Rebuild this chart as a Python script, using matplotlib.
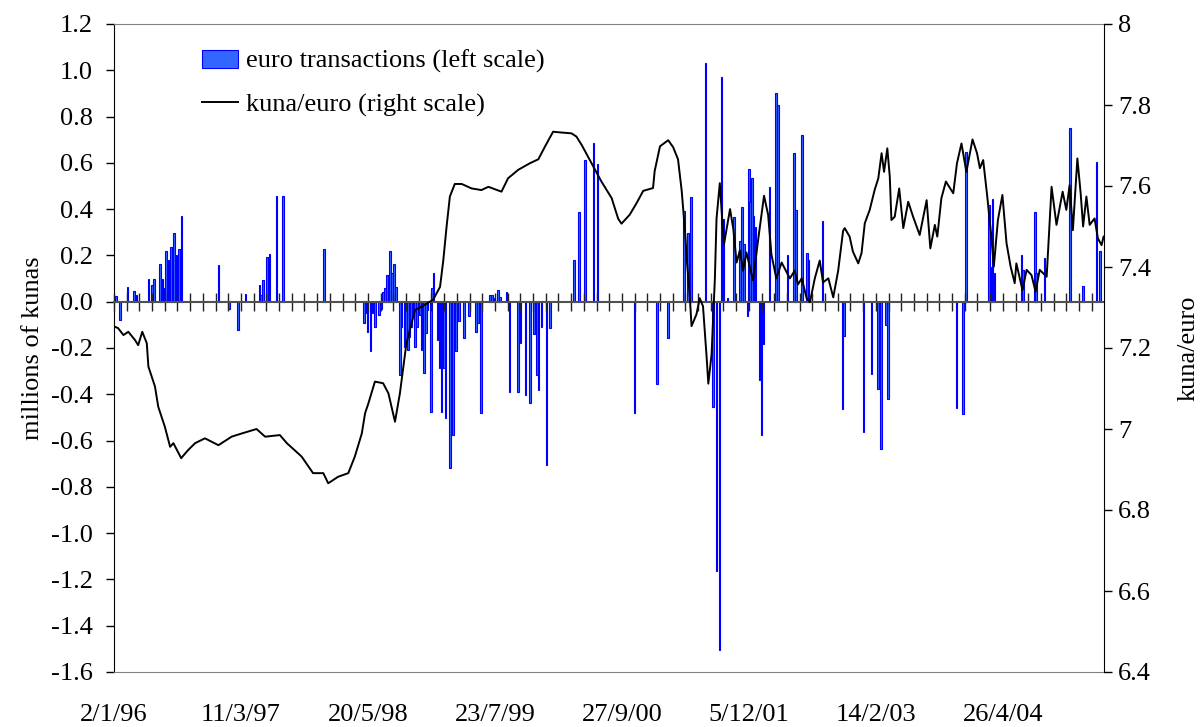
import matplotlib
matplotlib.use("Agg")
import matplotlib.pyplot as plt
import numpy as np

plt.rcParams['font.family'] = ['Liberation Serif', 'DejaVu Serif']

# ---------------- data ----------------
date_labels = ["2/1/96", "11/3/97", "20/5/98", "23/7/99", "27/9/00", "5/12/01", "14/2/03", "26/4/04"]
label_step = 310          # trading days between date labels
tick_step = 31            # trading days between tick marks on the zero line
n_days = 2417             # trading days shown

left_ticks = [1.2, 1.0, 0.8, 0.6, 0.4, 0.2, 0.0, -0.2, -0.4, -0.6, -0.8, -1.0, -1.2, -1.4, -1.6]
left_tick_labels = ["1.2", "1.0", "0.8", "0.6", "0.4", "0.2", "0.0", "-0.2", "-0.4", "-0.6",
                    "-0.8", "-1.0", "-1.2", "-1.4", "-1.6"]
right_ticks = [8.0, 7.8, 7.6, 7.4, 7.2, 7.0, 6.8, 6.6, 6.4]
right_tick_labels = ["8", "7.8", "7.6", "7.4", "7.2", "7", "6.8", "6.6", "6.4"]

# euro transactions (millions of kunas), trading-day index and amount
bar_day = [5, 15, 33, 49, 55, 84, 92, 98, 112, 118, 123, 127, 133, 139, 147, 153, 159, 165,
           255, 281, 302, 321, 355, 359, 364, 374, 380, 397, 412, 513,
           611, 614, 619, 626, 631, 637, 647, 653, 657, 661, 667, 671, 674, 679, 683, 689,
           698, 702, 709, 713, 717, 721, 725, 729, 735, 740, 747, 751, 757, 761, 765, 774,
           777, 780, 790, 795, 800, 805, 809, 820, 827, 835, 842, 855, 866, 884, 889, 896,
           918, 923, 929, 938, 942, 958, 966, 987, 992, 1005, 1016, 1026, 1032, 1036, 1044,
           1056, 1064, 1123, 1135, 1150, 1171, 1180,
           1271, 1325, 1352, 1392, 1402, 1408, 1444, 1463, 1471, 1478, 1483, 1488, 1498,
           1513, 1528, 1533, 1538, 1547, 1550, 1553, 1558, 1561, 1566, 1576, 1581, 1586,
           1600, 1616, 1621, 1644, 1660, 1665, 1679, 1692, 1696, 1730,
           1779, 1783, 1830, 1849, 1865, 1873, 1884, 1889, 2057, 2072, 2080,
           2136, 2140, 2145, 2150, 2216, 2219, 2248, 2251, 2272, 2334, 2365, 2399, 2407]
bar_value = [0.025, -0.079, 0.063, 0.048, 0.030, 0.10, 0.073, 0.10, 0.162, 0.10, 0.058, 0.219,
             0.181, 0.235, 0.296, 0.202, 0.228, 0.372,
             0.158, -0.033, -0.122, 0.032, 0.073, 0.030, 0.094, 0.195, 0.206, 0.457, 0.455, 0.227,
             -0.093, -0.05, -0.129, -0.211, -0.05, -0.108, -0.058, -0.033, 0.044, 0.058, 0.116,
             0.116, 0.221, 0.123, 0.163, 0.062,
             -0.316, -0.108, -0.194, -0.165, -0.208, -0.151, -0.108, -0.065, -0.197, -0.108,
             -0.058, -0.208, -0.309, -0.137, -0.036, -0.475,
             0.058, 0.123, -0.165, -0.287, -0.475, -0.287, -0.503, -0.719, -0.575, -0.215,
             -0.082, -0.158, -0.062, -0.129, -0.093, -0.482,
             0.029, 0.029, 0.014, 0.049, 0.02, 0.043, -0.392, -0.389, -0.177, -0.402, -0.438,
             -0.141, -0.316, -0.381, -0.108, -0.705, -0.115, 0.180, 0.387, 0.612, 0.685, 0.594,
             -0.483, -0.354, -0.157, 0.392, 0.298, 0.453, 1.031, -0.457, -1.165, -1.504, 0.973,
             0.358, 0.015,
             0.367, 0.264, 0.410, 0.25, -0.062, 0.573, 0.43, 0.533, 0.37, 0.324, -0.337, -0.577,
             -0.182,
             0.495, 0.904, 0.848, 0.204, 0.641, 0.396, 0.719, 0.21, 0.18, 0.347,
             -0.465, -0.148, -0.564, -0.313, -0.378, -0.638, -0.101, -0.421, -0.461, -0.487,
             0.649,
             0.418, 0.15, 0.443, 0.125, 0.202, 0.136, 0.389, 0.122, 0.188, 0.752, 0.068, 0.603,
             0.217]

# kuna/euro exchange rate, trading-day index and rate
line_day = [1, 10, 23, 35, 51, 59, 69, 80, 84, 100, 108, 124, 137, 145, 164, 181, 198, 222, 255,
            287, 312, 348, 369, 405, 422, 458, 486, 511, 523, 547, 572, 588, 605, 613,
            621, 637, 657, 670, 686, 698, 714, 735, 751, 779, 796, 804, 812, 820, 832, 849,
            873, 897, 914, 946, 962, 987, 1015, 1036, 1052, 1072, 1093, 1117, 1129, 1142,
            1166, 1190, 1215, 1231, 1239, 1259, 1276, 1292, 1316, 1320, 1333, 1353, 1365,
            1377, 1386, 1394, 1399, 1406, 1410, 1422, 1430, 1438, 1447, 1451, 1459, 1467,
            1471, 1479, 1489, 1504, 1512, 1520, 1528, 1536, 1544, 1560, 1573, 1587, 1597,
            1605, 1617, 1630, 1650, 1662, 1670, 1679, 1691, 1699, 1711, 1723, 1731, 1744,
            1756, 1768, 1780, 1784, 1796, 1804, 1817, 1825, 1833, 1845, 1857, 1866, 1874,
            1880, 1888, 1894, 1898, 1906, 1917, 1927, 1939, 1951, 1967, 1984, 1993, 2004,
            2010, 2020, 2031, 2049, 2058, 2069, 2081, 2096, 2107, 2114, 2122, 2132, 2142,
            2148, 2158, 2169, 2179, 2189, 2199, 2203, 2218, 2228, 2240, 2250, 2260, 2277,
            2289, 2301, 2316, 2325, 2333, 2341, 2352, 2360, 2366, 2374, 2382, 2394, 2402,
            2411, 2416]
line_value = [7.253, 7.249, 7.232, 7.240, 7.220, 7.207, 7.240, 7.212, 7.154, 7.105, 7.055, 7.006,
              6.956, 6.965, 6.928, 6.948, 6.965, 6.977, 6.960, 6.981, 6.989, 7.000, 6.981, 6.985,
              6.965, 6.932, 6.891, 6.891, 6.866, 6.882, 6.891, 6.932, 6.989, 7.039,
              7.063, 7.117, 7.113, 7.088, 7.018, 7.088, 7.212, 7.294, 7.302, 7.319, 7.351,
              7.417, 7.500, 7.574, 7.605, 7.605, 7.594, 7.590, 7.598, 7.586, 7.619, 7.640,
              7.656, 7.666, 7.697, 7.734, 7.732, 7.730, 7.722, 7.701, 7.656, 7.611, 7.570,
              7.519, 7.507, 7.529, 7.558, 7.588, 7.595, 7.637, 7.698, 7.713, 7.696, 7.666,
              7.588, 7.489, 7.411, 7.323, 7.254, 7.283, 7.323, 7.303, 7.175, 7.112, 7.185,
              7.372, 7.519, 7.607, 7.455, 7.543, 7.494, 7.411, 7.441, 7.391, 7.436, 7.367,
              7.470, 7.576, 7.529, 7.431, 7.372, 7.411, 7.372, 7.391, 7.357, 7.372, 7.323,
              7.313, 7.372, 7.416, 7.362, 7.372, 7.325, 7.391, 7.489, 7.496, 7.475, 7.438,
              7.409, 7.434, 7.508, 7.541, 7.590, 7.619, 7.681, 7.635, 7.693, 7.623, 7.516,
              7.524, 7.594, 7.496, 7.561, 7.524, 7.479, 7.565, 7.446, 7.504, 7.475, 7.570,
              7.611, 7.582, 7.656, 7.705, 7.635, 7.715, 7.681, 7.644, 7.664, 7.574, 7.475,
              7.401, 7.516, 7.578, 7.459, 7.401, 7.360, 7.409, 7.343, 7.393, 7.380, 7.339,
              7.393, 7.376, 7.598, 7.504, 7.586, 7.541, 7.602, 7.491, 7.668, 7.582, 7.500,
              7.574, 7.504, 7.520, 7.471, 7.454, 7.475]

# ---------------- figure ----------------
FS = 19
fig = plt.figure(figsize=(12.01, 7.27), dpi=100)
ax = fig.add_axes([114 / 1201, 55 / 727, 990 / 1201, 648 / 727])

ax.bar(bar_day, bar_value, width=4, color='#3366ff', edgecolor='#0000ff', linewidth=0.8,
       label='euro transactions (left scale)', zorder=2)
ax.set_xlim(0, n_days)
ax.set_ylim(left_ticks[-1], left_ticks[0])
ax.set_yticks(left_ticks)
ax.set_yticklabels(left_tick_labels)
ax.set_xticks(np.arange(len(date_labels)) * label_step)
ax.set_xticklabels(date_labels)
ax.tick_params(axis='x', length=0, pad=23, labelsize=FS)
ax.tick_params(axis='y', direction='out', length=6, width=1, pad=9, labelsize=FS)
ax.set_ylabel('millions of kunas', fontsize=FS, labelpad=5)

ax.spines['left'].set_color('black')
ax.spines['top'].set_color('#808080')
ax.spines['bottom'].set_color('#808080')
ax.spines['right'].set_visible(False)

# zero line with crossing tick marks
ymin, ymax = ax.get_ylim()
sec = ax.secondary_xaxis((0 - ymin) / (ymax - ymin))
sec.set_xticks(np.arange(0, n_days + 1, tick_step))
sec.set_xticklabels([])
sec.tick_params(direction='inout', length=13, width=1, color='#222222')
for s in sec.spines.values():
    s.set_color('#505050')
    s.set_linewidth(1.5)
sec.set_zorder(5)

ax2 = ax.twinx()
ax2.plot(line_day, line_value, color='black', lw=1.4, label='kuna/euro (right scale)')
ax2.set_ylim(right_ticks[-1], right_ticks[0])
ax2.set_yticks(right_ticks)
ax2.set_yticklabels(right_tick_labels)
ax2.tick_params(axis='y', direction='out', length=6, width=1, pad=4, labelsize=FS)
ax2.set_ylabel('kuna/euro', fontsize=FS, labelpad=19)
for k in ['top', 'bottom', 'left']:
    ax2.spines[k].set_visible(False)
ax2.spines['right'].set_color('black')

h1, l1 = ax.get_legend_handles_labels()
h2, l2 = ax2.get_legend_handles_labels()
leg = ax2.legend(h1 + h2, l1 + l2, loc='upper left', bbox_to_anchor=(0.089, 0.96),
                 frameon=False, fontsize=FS, handlelength=1.35, handleheight=0.65,
                 handletextpad=0.3, labelspacing=0.75, borderpad=0, borderaxespad=0)

fig.savefig('out.png', dpi=100)
